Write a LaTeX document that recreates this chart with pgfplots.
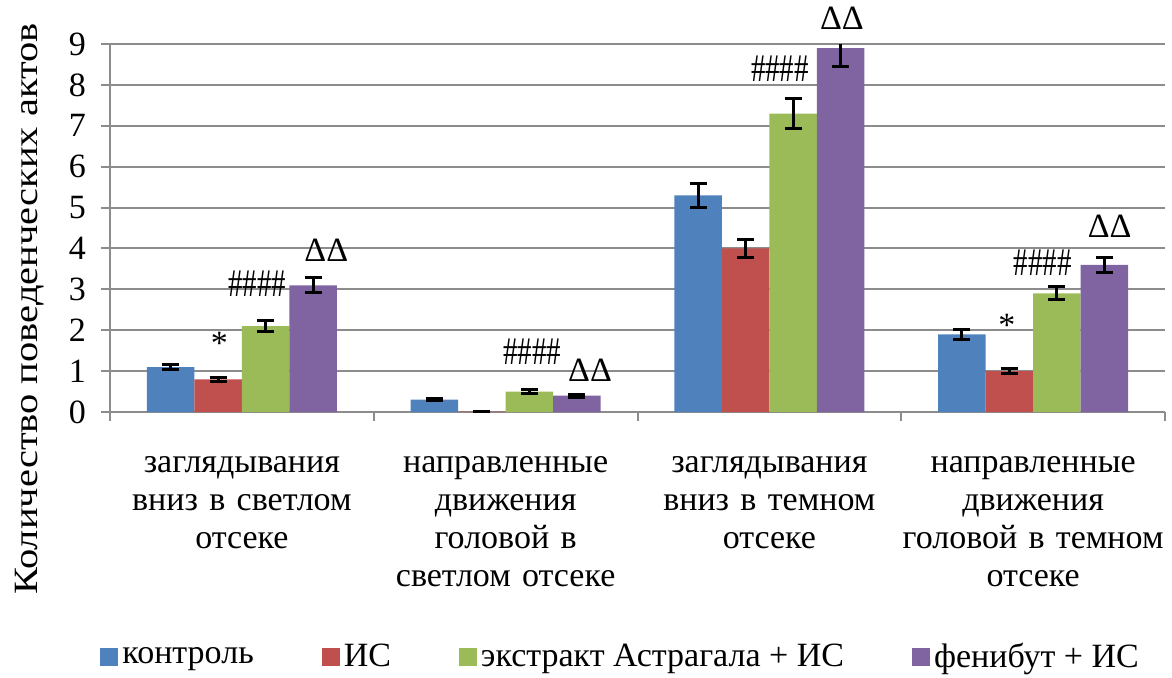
\documentclass[border=0pt]{standalone}
\usepackage{fontspec}
\setmainfont{Liberation Serif}
\usepackage{pgfplots}
\pgfplotsset{compat=1.18}
\usepackage{pgfplotstable}
\definecolor{cblue}{HTML}{4F81BD}
\definecolor{cred}{HTML}{C0504D}
\definecolor{cgreen}{HTML}{9BBB59}
\definecolor{cpurple}{HTML}{8064A2}
\definecolor{cgrid}{HTML}{8C8C8C}

\pgfplotstableread{
x y e
1 1.1 0.07
2 0.3 0.03
3 5.3 0.29
4 1.9 0.12
}\tcontrol
\pgfplotstableread{
x y e
1 0.8 0.05
2 0.01 0.01
3 4.0 0.22
4 1.0 0.06
}\tis
\pgfplotstableread{
x y e
1 2.1 0.13
2 0.5 0.04
3 7.3 0.37
4 2.9 0.16
}\textract
\pgfplotstableread{
x y e
1 3.1 0.18
2 0.4 0.04
3 8.9 0.46
4 3.6 0.19
}\tfenibut

\begin{document}
\begin{tikzpicture}
\begin{axis}[
  name=ax,
  scale only axis,
  width=527.5pt, height=184pt,
  ybar=0pt, bar width=23.75pt,
  xmin=0.5, xmax=4.5, ymin=0, ymax=9,
  xtick={0.5,1.5,2.5,3.5,4.5},
  x tick label as interval,
  xticklabels={{заглядывания\\вниз в светлом\\отсеке},
               {направленные\\движения\\головой в\\светлом отсеке},
               {заглядывания\\вниз в темном\\отсеке},
               {направленные\\движения\\головой в темном\\отсеке}},
  xticklabel style={align=center, text width=135pt, font=\fontsize{17}{19}\selectfont, yshift=-14pt},
  ytick={0,...,9},
  yticklabel style={font=\fontsize{17}{19}\selectfont, xshift=-4pt},
  /pgf/number format/assume math mode=true,
  ymajorgrids, grid style={cgrid, line width=1pt},
  axis x line*=bottom, axis y line*=left,
  axis line style={cgrid, line width=1pt},
  tick style={cgrid, line width=1pt},
  tick align=outside,
  major tick length=4.5pt,
  ylabel={\scalebox{1.19}[1]{Количество поведенческих актов}},
  ylabel style={font=\fontsize{17}{19}\selectfont, at={(axis description cs:-0.0758,0.28)}, anchor=center},
  clip=true, clip mode=individual,
  legend style={at={(0.485,-0.666)}, anchor=center, draw=none,
    font=\fontsize{17}{19}\selectfont,
    legend columns=4,
    nodes={inner xsep=2pt},
    /tikz/every even column/.append style={column sep=32pt}},
  legend image code/.code={\fill[#1,draw=none] (0pt,-4.5pt) rectangle (9pt,4.5pt);},
  error bars/y dir=both, error bars/y explicit,
  error bars/error bar style={black, line width=1.5pt},
  error bars/error mark options={black, line width=1.5pt, rotate=90, mark size=4.2pt},
]
\addplot[fill=cblue, draw=none] table[x=x, y=y, y error=e]{\tcontrol};
\addplot[fill=cred, draw=none] table[x=x, y=y, y error=e]{\tis};
\addplot[fill=cgreen, draw=none] table[x=x, y=y, y error=e]{\textract};
\addplot[fill=cpurple, draw=none] table[x=x, y=y, y error=e]{\tfenibut};
\legend{контроль, ИС, экстракт Астрагала + ИС, фенибут + ИС}

\begin{scope}[every node/.style={font=\fontsize{17}{19}\selectfont, inner sep=0pt}]
\node at (axis cs:0.915,1.69) {*};
\node at (axis cs:1.058,3.15) {\scalebox{0.85}[1.15]{\#\#\#\#}};
\node at (axis cs:1.32,3.96) {ΔΔ};
\node at (axis cs:2.1,1.47) {\scalebox{0.85}[1.15]{\#\#\#\#}};
\node at (axis cs:2.32,1.03) {ΔΔ};
\node at (axis cs:3.04,8.4) {\scalebox{0.85}[1.15]{\#\#\#\#}};
\node at (axis cs:3.275,9.63) {ΔΔ};
\node at (axis cs:3.9,2.13) {*};
\node at (axis cs:4.036,3.64) {\scalebox{0.85}[1.15]{\#\#\#\#}};
\node at (axis cs:4.29,4.55) {ΔΔ};
\end{scope}
\end{axis}
\pgfresetboundingbox
\path[use as bounding box] ([xshift=-55pt,yshift=-132.5pt]ax.south west) rectangle ++(586pt,338.5pt);
\end{tikzpicture}
\end{document}
